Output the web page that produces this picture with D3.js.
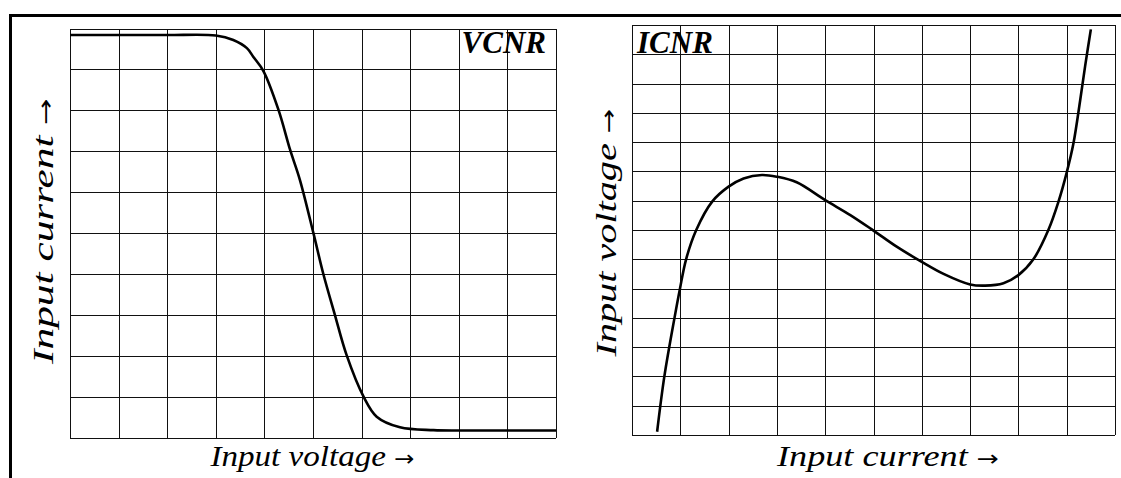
<!DOCTYPE html>
<html>
<head>
<meta charset="utf-8">
<script src="https://cdn.jsdelivr.net/npm/d3@7"></script>
<style>
body { margin: 0; background: #fff; }
svg { display: block; }
.grid line { stroke: #111; stroke-width: 1; shape-rendering: crispEdges; }
.grid path { display: none; }
.curve { fill: none; stroke: #000; stroke-width: 2.6; stroke-linejoin: round; }
.label { font-family: "Liberation Serif", "Times New Roman", serif; font-style: italic; font-size: 30px; fill: #000; }
.arrow { font-family: "DejaVu Sans", sans-serif; font-style: normal; font-size: 22px; }
.tag { font-family: "Liberation Serif", "Times New Roman", serif; font-style: italic; font-weight: bold; font-size: 31px; fill: #000; }
</style>
</head>
<body>
<svg id="chart" width="1121" height="478"></svg>
<script>
//Data (grid units)
const vcnrVoltage = [0, 1, 2, 3, 3.36, 3.64, 3.77, 3.98, 4.29, 4.53, 4.73, 5.01, 5.21, 5.45, 5.69, 6.04, 6.31, 6.79, 7.48, 8, 9, 10];
const vcnrCurrent = [9.84, 9.84, 9.84, 9.83, 9.72, 9.52, 9.31, 8.96, 8.01, 7.03, 6.30, 4.99, 4.01, 3.00, 2.02, 1.00, 0.51, 0.25, 0.18, 0.17, 0.17, 0.17];

const icnrCurrent = [0.52, 0.67, 0.88, 0.99, 1.12, 1.33, 1.66, 2.0, 2.31, 2.69, 3.0, 3.41, 4.0, 4.52, 5.0, 5.48, 5.99, 6.45, 7.0, 7.31, 7.69, 8.0, 8.31, 8.62, 8.83, 9.0, 9.14, 9.28, 9.39, 9.50];
const icnrVoltage = [0.11, 2.0, 4.0, 4.97, 6.0, 7.0, 7.97, 8.48, 8.76, 8.88, 8.82, 8.63, 8.02, 7.51, 6.98, 6.43, 5.92, 5.50, 5.14, 5.10, 5.18, 5.46, 6.0, 7.0, 7.97, 8.96, 9.96, 11.44, 12.69, 13.85];

//Grid ticks
const vcnrGridX = [0, 1, 2, 3, 4, 5, 6, 7, 8, 9, 10];
const vcnrGridY = [0, 1, 2, 3, 4, 5, 6, 7, 8, 9, 10];
const icnrGridX = [0, 1, 2, 3, 4, 5, 6, 7, 8, 9, 10];
const icnrGridY = [0, 1, 2, 3, 4, 5, 6, 7, 8, 9, 10, 11, 12, 13, 14];

//Text
const vcnrTag = "VCNR";
const icnrTag = "ICNR";
const vcnrXLabel = "Input voltage";
const vcnrYLabel = "Input current";
const icnrXLabel = "Input current";
const icnrYLabel = "Input voltage";
const arrowGlyph = "\u2192";

const svg = d3.select("#chart");

//Outer frame (thick top and left rule)
svg.append("path")
    .attr("d", "M10.5,478 V15.5 H1121")
    .attr("fill", "none")
    .attr("stroke", "#000")
    .attr("stroke-width", 3);

function addLabel(words, length, transform) {
    const t = svg.append("text")
        .attr("class", "label")
        .attr("transform", transform)
        .attr("text-anchor", "middle")
        .attr("textLength", length)
        .attr("lengthAdjust", "spacingAndGlyphs");
    t.append("tspan").text(words + " ");
    t.append("tspan").attr("class", "arrow").text(arrowGlyph);
}

function drawPanel(opt) {
    const x = d3.scaleLinear().domain([0, opt.gridX[opt.gridX.length - 1]]).range([opt.left, opt.right]);
    const y = d3.scaleLinear().domain([0, opt.gridY[opt.gridY.length - 1]]).range([opt.bottom, opt.top]);

    //Vertical grid lines
    svg.append("g")
        .attr("class", "grid")
        .attr("transform", `translate(0, ${opt.bottom})`)
        .call(d3.axisBottom(x).tickValues(opt.gridX).tickSize(-(opt.bottom - opt.top)).tickFormat(""));

    //Horizontal grid lines
    svg.append("g")
        .attr("class", "grid")
        .attr("transform", `translate(${opt.left}, 0)`)
        .call(d3.axisLeft(y).tickValues(opt.gridY).tickSize(-(opt.right - opt.left)).tickFormat(""));

    //Curve
    const line = d3.line()
        .x((d, i) => x(opt.xs[i]))
        .y((d, i) => y(opt.ys[i]))
        .curve(d3.curveCatmullRom.alpha(0.5));
    svg.append("path")
        .attr("class", "curve")
        .attr("d", line(opt.xs));

    //Tag in the corner
    svg.append("text")
        .attr("class", "tag")
        .attr("x", opt.tagX)
        .attr("y", 53)
        .attr("text-anchor", opt.tagAnchor)
        .text(opt.tag);

    //Axis titles (stretched to the length they have in the scan)
    addLabel(opt.xLabel, opt.xLabelLength, `translate(${opt.xLabelCenter}, 466)`);
    addLabel(opt.yLabel, opt.yLabelLength, `translate(${opt.yLabelX}, ${opt.yLabelCenter}) rotate(-90)`);
}

drawPanel({
    left: 70, right: 556, top: 28.5, bottom: 437.5,
    gridX: vcnrGridX, gridY: vcnrGridY,
    xs: vcnrVoltage, ys: vcnrCurrent,
    tag: vcnrTag, tagX: 546, tagAnchor: "end",
    xLabel: vcnrXLabel, xLabelCenter: 312.5, xLabelLength: 204,
    yLabel: vcnrYLabel, yLabelX: 53, yLabelCenter: 231, yLabelLength: 266
});

drawPanel({
    left: 632, right: 1115, top: 25, bottom: 435,
    gridX: icnrGridX, gridY: icnrGridY,
    xs: icnrCurrent, ys: icnrVoltage,
    tag: icnrTag, tagX: 637, tagAnchor: "start",
    xLabel: icnrXLabel, xLabelCenter: 888, xLabelLength: 222,
    yLabel: icnrYLabel, yLabelX: 616, yLabelCenter: 232.5, yLabelLength: 248
});
</script>
</body>
</html>
